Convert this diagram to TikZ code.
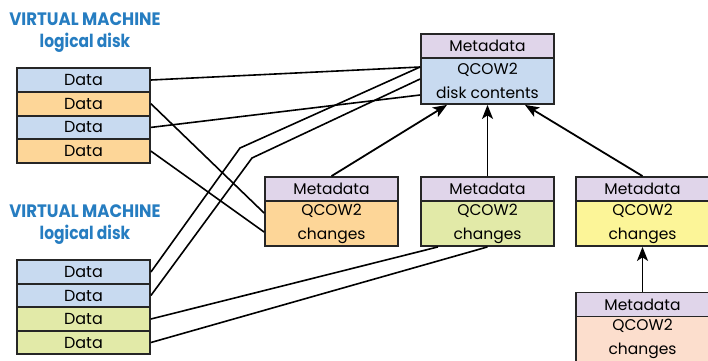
\documentclass[tikz,border=0pt]{standalone}
\usepackage{fontspec}
\setmainfont{Poppins}
\usetikzlibrary{arrows.meta,calc}
\definecolor{headblue}{RGB}{38,125,193}
\definecolor{metac}{RGB}{224,213,234}
\definecolor{bluec}{RGB}{200,218,240}
\definecolor{orangec}{RGB}{253,214,152}
\definecolor{greenc}{RGB}{226,234,168}
\definecolor{yellowc}{RGB}{252,245,152}
\definecolor{peachc}{RGB}{252,222,205}
\tikzset{
  cell/.style={draw=black!85, line width=1.8pt, minimum width=133pt, inner sep=0pt,
    font=\fontsize{15.5}{17}\selectfont},
  datarow/.style={cell, minimum height=23.6pt, font=\fontsize{16}{17}\selectfont},
  metabox/.style={cell, fill=metac, minimum height=24pt},
  bodybox/.style={cell, minimum height=45pt, align=center,
    font=\fontsize{15.5}{24}\selectfont},
  head/.style={text=headblue, align=center, font=\bfseries\fontsize{18}{22}\selectfont},
  link/.style={line width=1.6pt, black},
  arr/.style={line width=1.8pt, black, -{Stealth[length=14pt,width=11pt,inset=3.5pt]}}
}
\begin{document}
\begin{tikzpicture}[x=1pt,y=-1pt]
\clip (0,0) rectangle (708,360);
\fill[white] (0,0) rectangle (708,360);
% headings
\node[head] (h1) at (85,33) {\scalebox{0.92}[1]{VIRTUAL MACHINE}\\\scalebox{0.86}[1]{logical disk}};
\node[head] (h2) at (85,225) {\scalebox{0.92}[1]{VIRTUAL MACHINE}\\\scalebox{0.86}[1]{logical disk}};
% top disk
\node[datarow, fill=bluec]   (d1) at (83.5,80)    {Data};
\node[datarow, fill=orangec] (d2) at (83.5,103.7) {Data};
\node[datarow, fill=bluec]   (d3) at (83.5,127.4) {Data};
\node[datarow, fill=orangec] (d4) at (83.5,151.1) {Data};
% bottom disk
\node[datarow, fill=bluec]  (e1) at (83.5,272)   {Data};
\node[datarow, fill=bluec]  (e2) at (83.5,295.5) {Data};
\node[datarow, fill=greenc] (e3) at (83.5,319)   {Data};
\node[datarow, fill=greenc] (e4) at (83.5,342.5) {Data};
% base image
\node[metabox] (qm) at (487.5,46) {Metadata};
\node[bodybox, fill=bluec, minimum height=46pt] (qb) at (487.5,81) {QCOW2\\disk contents};
% orange overlay
\node[metabox] (om) at (331.5,189) {Metadata};
\node[bodybox, fill=orangec] (ob) at (331.5,223.5) {QCOW2\\changes};
% green overlay
\node[metabox] (gm) at (487.5,189) {Metadata};
\node[bodybox, fill=greenc] (gb) at (487.5,223.5) {QCOW2\\changes};
% yellow overlay
\node[metabox] (ym) at (642.5,189) {Metadata};
\node[bodybox, fill=yellowc] (yb) at (642.5,223.5) {QCOW2\\changes};
% peach overlay
\node[metabox] (pm) at (642.5,304.5) {Metadata};
\node[bodybox, fill=peachc] (pb) at (642.5,339) {QCOW2\\changes};
% bends
\coordinate (k1) at (240,148);
\coordinate (k2) at (252,158);
% top disk links
\draw[link] (d1.east) -- ($(qb.west)+(0,14pt)$);
\draw[link] (d2.east) -- ($(ob.west)+(0,10.5pt)$);
\draw[link] (d3.east) -- ($(qb.west)+(0,-14pt)$);
\draw[link] (d4.east) -- ($(ob.west)+(0,-8.5pt)$);
% bottom disk links
\draw[link] (e1.east) -- (k1) -- ($(qb.west)+(0,14pt)$);
\draw[link] (e2.east) -- (k2) -- ($(qb.west)+(0,2pt)$);
\draw[link] (e3.east) -- ($(gb.south)+(-49.5pt,0)$);
\draw[link] (e4.east) -- (gb.south);
% arrows
\draw[arr] (om.north) -- ($(qb.south)+(-40.5pt,0)$);
\draw[arr] (gm.north) -- (qb.south);
\draw[arr] (ym.north) -- ($(qb.south)+(37.5pt,0)$);
\draw[arr] (pm.north) -- (yb.south);
\end{tikzpicture}
\end{document}
